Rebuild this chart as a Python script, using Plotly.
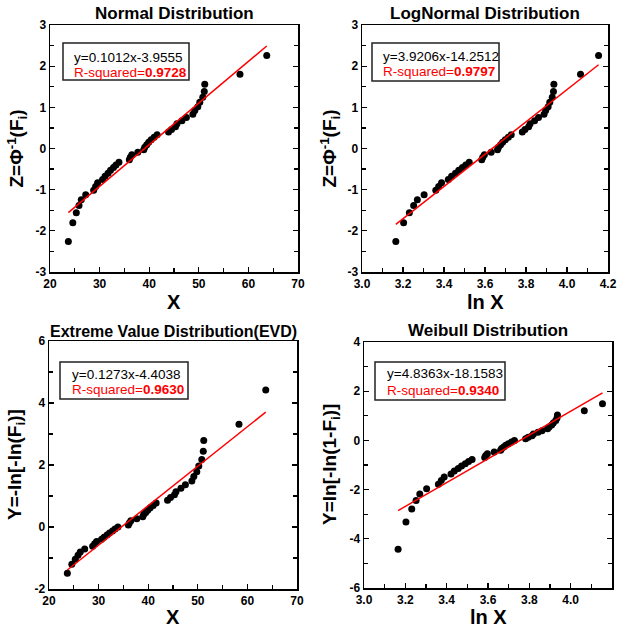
import plotly.graph_objects as go

# ---------------- data ----------------
x_values = [23.7, 24.6, 25.3, 25.85, 26.3, 27.2, 28.8, 29.2, 29.6, 30.6,
            31.1, 31.7, 32.2, 32.8, 33.3, 33.9, 36.0, 36.2, 36.5, 37.7,
            38.9, 39.1, 39.5, 39.9, 40.4, 41.0, 41.6, 43.9, 44.5, 45.3,
            45.6, 46.6, 47.5, 48.8, 49.2, 49.8, 50.2, 50.8, 51.1, 51.2,
            58.3, 63.7]
lnx_values = [3.165, 3.203, 3.231, 3.252, 3.270, 3.303, 3.360, 3.374, 3.388, 3.421,
              3.437, 3.456, 3.472, 3.490, 3.506, 3.523, 3.584, 3.589, 3.597, 3.630,
              3.661, 3.666, 3.676, 3.686, 3.699, 3.714, 3.728, 3.782, 3.795, 3.813,
              3.820, 3.842, 3.861, 3.888, 3.896, 3.908, 3.916, 3.928, 3.934, 3.936,
              4.066, 4.154]
z_values = [-2.260, -1.803, -1.559, -1.383, -1.242, -1.122, -1.016, -0.921, -0.833, -0.752,
            -0.674, -0.601, -0.531, -0.464, -0.398, -0.334, -0.272, -0.210, -0.150, -0.090,
            -0.030, 0.030, 0.090, 0.150, 0.210, 0.272, 0.334, 0.398, 0.464, 0.531,
            0.601, 0.674, 0.752, 0.833, 0.921, 1.016, 1.122, 1.242, 1.383, 1.559,
            1.803, 2.260]
evd_y = [-1.489, -1.204, -1.037, -0.910, -0.804, -0.709, -0.624, -0.544, -0.469, -0.396,
         -0.327, -0.259, -0.192, -0.127, -0.062, 0.003, 0.068, 0.133, 0.199, 0.265,
         0.332, 0.401, 0.471, 0.544, 0.618, 0.695, 0.775, 0.859, 0.948, 1.040,
         1.140, 1.246, 1.361, 1.487, 1.626, 1.783, 1.964, 2.178, 2.442, 2.790,
         3.313, 4.423]
weibull_y = [-4.423, -3.313, -2.790, -2.442, -2.178, -1.964, -1.783, -1.626, -1.487, -1.361,
             -1.246, -1.140, -1.040, -0.948, -0.859, -0.775, -0.695, -0.618, -0.544, -0.471,
             -0.401, -0.332, -0.265, -0.199, -0.133, -0.068, -0.003, 0.062, 0.127, 0.192,
             0.259, 0.327, 0.396, 0.469, 0.544, 0.624, 0.709, 0.804, 0.910, 1.037,
             1.204, 1.489]

titles = ["Normal Distribution", "LogNormal Distribution",
          "Extreme Value Distribution(EVD)", "Weibull Distribution"]
x_titles = ["X", "ln X", "X", "ln X"]
y_titles = ["Z=Φ<sup>-1</sup>(F<sub>i</sub>)", "Z=Φ<sup>-1</sup>(F<sub>i</sub>)",
            "Y=-ln[-ln(F<sub>i</sub>)]", "Y=ln[-ln(1-F<sub>i</sub>)]"]
slopes = [0.1012, 3.9206, 0.1273, 4.8363]
intercepts = [-3.9555, -14.2512, -4.4038, -18.1583]
r_squared = ["0.9728", "0.9797", "0.9630", "0.9340"]

x_lin_ticks = [20, 30, 40, 50, 60, 70]
x_lin_labels = ["20", "30", "40", "50", "60", "70"]
x_log_ticks = [3.0, 3.2, 3.4, 3.6, 3.8, 4.0, 4.2]
x_log_labels = ["3.0", "3.2", "3.4", "3.6", "3.8", "4.0", "4.2"]
yz_ticks = [-3, -2, -1, 0, 1, 2, 3]
yz_labels = ["-3", "-2", "-1", "0", "1", "2", "3"]
yevd_ticks = [-2, 0, 2, 4, 6]
yevd_labels = ["-2", "0", "2", "4", "6"]
ywb_ticks = [-6, -4, -2, 0, 2, 4]
ywb_labels = ["-6", "-4", "-2", "0", "2", "4"]

# ---------------- layout helpers ----------------
W, H = 619, 628
FONT = "Liberation Sans, Arial, sans-serif"


def px(x):
    return x / W


def py(y):
    return 1 - y / H


# plot-area pixel boxes: (left, right, top, bottom)
boxes = [(50, 298, 25, 272), (362, 608, 25, 272),
         (49, 297, 341, 589), (364, 612, 342, 588)]

panels = [
    dict(x=x_values, y=z_values, xr=[20, 70], yr=[-3, 3],
         xt=(x_lin_ticks, x_lin_labels), yt=(yz_ticks, yz_labels), xm=5, ym=0.5),
    dict(x=lnx_values, y=z_values, xr=[3.0, 4.2], yr=[-3, 3],
         xt=(x_log_ticks, x_log_labels), yt=(yz_ticks, yz_labels), xm=0.1, ym=0.5),
    dict(x=x_values, y=evd_y, xr=[20, 70], yr=[-2, 6],
         xt=(x_lin_ticks, x_lin_labels), yt=(yevd_ticks, yevd_labels), xm=5, ym=1),
    dict(x=lnx_values, y=weibull_y, xr=[3.0, 4.2], yr=[-6, 4],
         xt=(x_log_ticks, x_log_labels), yt=(ywb_ticks, ywb_labels), xm=0.1, ym=1),
]

# annotation boxes: box (l, r, t, b), text left, line1 y, line2 y
eq_boxes = [((63, 189, 43, 80), 72, 57.5, 72.5),
            ((372, 499, 43, 81), 381, 56.5, 72),
            ((60, 188, 362, 399), 70, 374, 389.5),
            ((375, 505, 362, 400), 385, 373.5, 390)]
title_y = [13.5, 13.5, 331, 330]
title_size = [17, 17, 16, 17]
xtitle_y = [302, 302, 616.5, 617]
ytitle_x = [17, 330, 16, 331]

fig = go.Figure()
layout = dict(width=W, height=H, autosize=False,
              margin=dict(l=0, r=0, t=0, b=0, pad=0, autoexpand=False),
              paper_bgcolor="white", plot_bgcolor="white",
              showlegend=False, font=dict(family=FONT, color="black"))
annotations = []
shapes = []

tickfont = dict(family=FONT, size=12, color="black", weight="bold")

for i, (p, b) in enumerate(zip(panels, boxes)):
    n = i + 1
    xa = "x" if n == 1 else f"x{n}"
    ya = "y" if n == 1 else f"y{n}"
    l, r, t, bt = b
    fig.add_trace(go.Scatter(x=p["x"], y=p["y"], mode="markers", xaxis=xa, yaxis=ya,
                             marker=dict(color="black", size=7), hoverinfo="x+y"))
    x0, x1 = min(p["x"]), max(p["x"])
    fig.add_trace(go.Scatter(x=[x0, x1],
                             y=[slopes[i] * x0 + intercepts[i], slopes[i] * x1 + intercepts[i]],
                             mode="lines", xaxis=xa, yaxis=ya,
                             line=dict(color="#ff0000", width=1.5)))
    common = dict(showline=True, linecolor="black", linewidth=1.5,
                  ticks="inside", ticklen=5, tickwidth=1.2, tickcolor="black",
                  showgrid=False, zeroline=False, tickfont=tickfont,
                  tickmode="array", automargin=False)
    layout[f"xaxis{'' if n == 1 else n}"] = dict(
        common, domain=[px(l), px(r)], range=p["xr"], anchor=ya, mirror=True,
        tickvals=p["xt"][0], ticktext=p["xt"][1],
        minor=dict(ticks="inside", ticklen=4, tickwidth=1.2, tickcolor="black",
                   tickmode="linear", tick0=p["xr"][0], dtick=p["xm"], showgrid=False))
    layout[f"yaxis{'' if n == 1 else n}"] = dict(
        common, domain=[py(bt), py(t)], range=p["yr"], anchor=xa, mirror="ticks",
        tickvals=p["yt"][0], ticktext=p["yt"][1],
        minor=dict(ticks="inside", ticklen=4, tickwidth=1.2, tickcolor="black",
                   tickmode="linear", tick0=p["yr"][0], dtick=p["ym"], showgrid=False))

    cx = (l + r) / 2
    annotations.append(dict(text=f"<b>{titles[i]}</b>", x=px(cx), y=py(title_y[i]),
                            xref="paper", yref="paper", showarrow=False,
                            xanchor="center", yanchor="middle",
                            font=dict(family=FONT, size=title_size[i], color="black")))
    annotations.append(dict(text=f"<b>{x_titles[i]}</b>", x=px(cx), y=py(xtitle_y[i]),
                            xref="paper", yref="paper", showarrow=False,
                            xanchor="center", yanchor="middle",
                            font=dict(family=FONT, size=20, color="black")))
    annotations.append(dict(text=f"<b>{y_titles[i]}</b>", x=px(ytitle_x[i]),
                            y=py((t + bt) / 2), xref="paper", yref="paper",
                            showarrow=False, textangle=-90,
                            xanchor="center", yanchor="middle",
                            font=dict(family=FONT, size=19, color="black")))

    (bl, br, btop, bbot), tx, l1, l2 = eq_boxes[i]
    shapes.append(dict(type="rect", xref="paper", yref="paper",
                       x0=px(bl), x1=px(br), y0=py(bbot), y1=py(btop),
                       line=dict(color="#222222", width=1.5), fillcolor="white"))
    eq = f"y={slopes[i]:.4f}x{intercepts[i]:.4f}"
    annotations.append(dict(text=eq, x=px(tx), y=py(l1), xref="paper", yref="paper",
                            showarrow=False, xanchor="left", yanchor="middle",
                            font=dict(family=FONT, size=13.5, color="black")))
    annotations.append(dict(text=f"R-squared=<b>{r_squared[i]}</b>", x=px(tx), y=py(l2),
                            xref="paper", yref="paper",
                            showarrow=False, xanchor="left", yanchor="middle",
                            font=dict(family=FONT, size=13.5, color="#ff0000")))

layout["annotations"] = annotations
layout["shapes"] = shapes
fig.update_layout(**layout)
fig.write_html(
    "out.html",
    config={"displayModeBar": False, "staticPlot": True},
    post_script="document.body.style.margin='0';document.body.style.overflow='hidden';",
)
